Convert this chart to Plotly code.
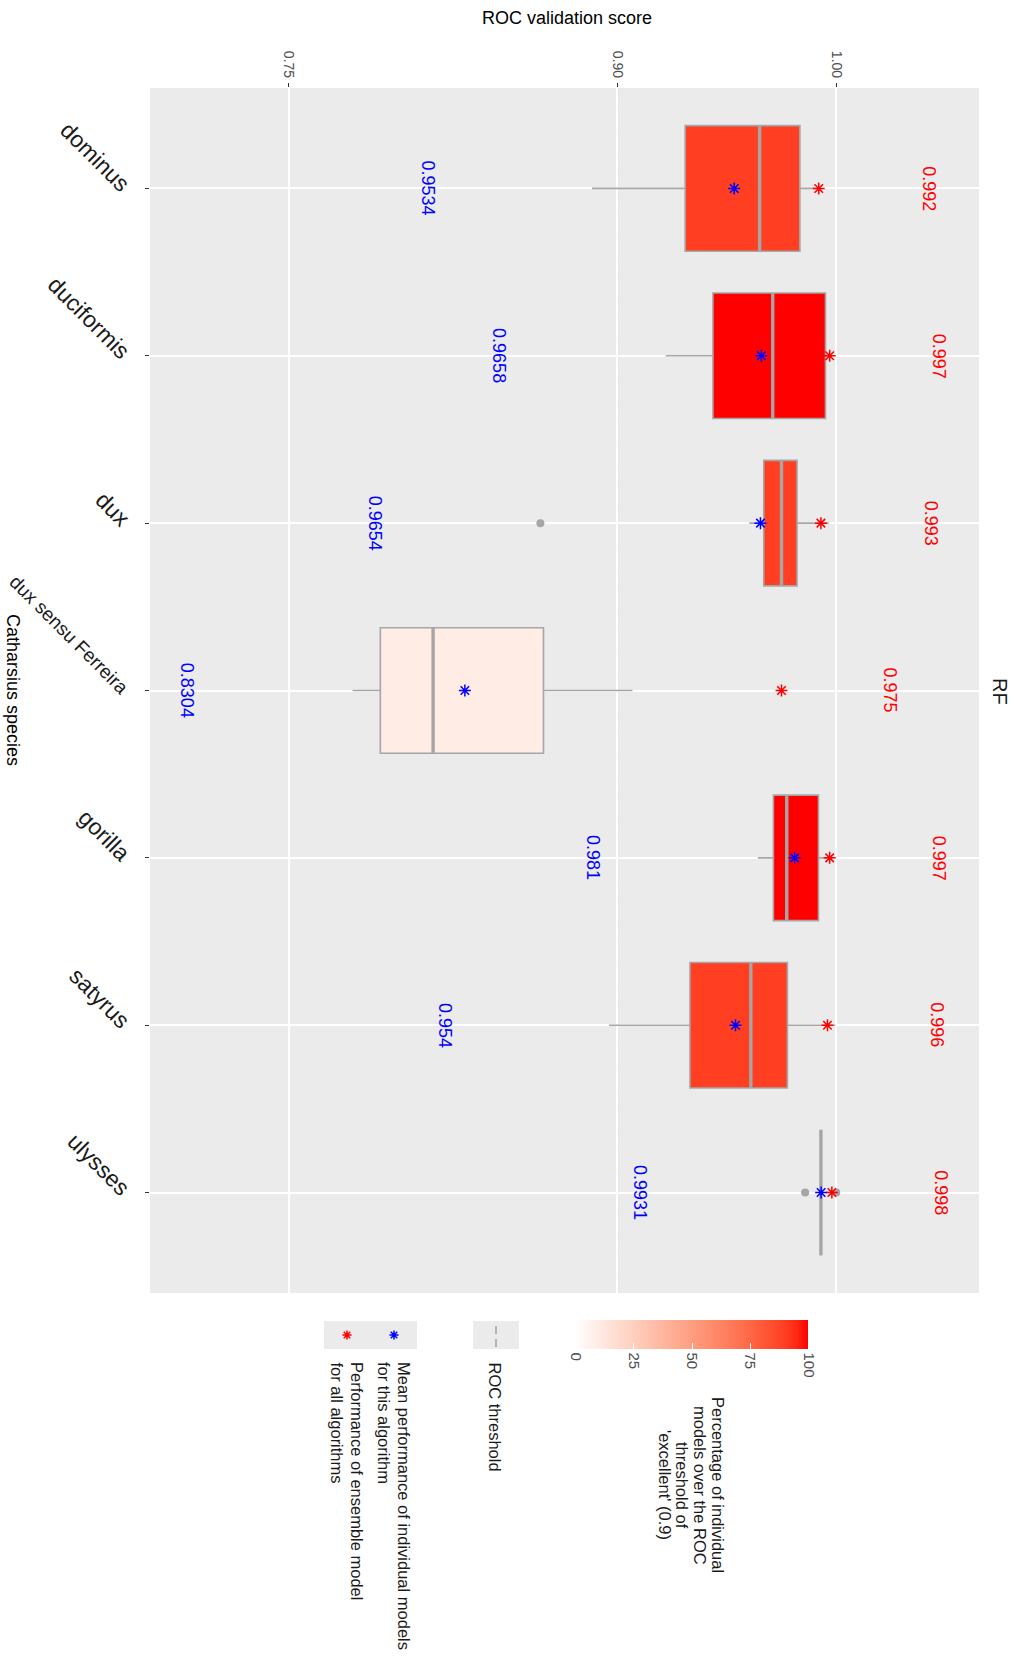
import math
import plotly.graph_objects as go

# ---------------- data ----------------
species = ["dominus", "duciformis", "dux", "dux sensu Ferreira", "gorilla", "satyrus", "ulysses"]
lower_whisker = [0.8885, 0.9221, 0.9603, 0.7791, 0.9642, 0.8962, 0.9930]
q1 = [0.9310, 0.9437, 0.9669, 0.7918, 0.9713, 0.9332, 0.9930]
median = [0.9650, 0.9710, 0.9750, 0.8159, 0.9774, 0.9610, 0.9930]
q3 = [0.9834, 0.9951, 0.9821, 0.8663, 0.9919, 0.9777, 0.9930]
upper_whisker = [0.9925, 0.9975, 0.9966, 0.9069, 0.9985, 0.9995, 0.9930]
outlier_species = ["dux", "ulysses", "ulysses"]
outlier_values = [0.8649, 0.9858, 1.0000]
mean_auc = [0.9534, 0.9658, 0.9654, 0.8304, 0.981, 0.954, 0.9931]
mean_auc_text = ["0.9534", "0.9658", "0.9654", "0.8304", "0.981", "0.954", "0.9931"]
mean_label_x = [0.8135, 0.8463, 0.7895, 0.7038, 0.8889, 0.8210, 0.9107]
ensemble_auc = [0.992, 0.997, 0.993, 0.975, 0.997, 0.996, 0.998]
pct_excellent = [90, 100, 90, 10, 100, 90, 100]
roc_threshold = 0.9
x_ticks = [0.75, 0.90, 1.00]
x_tick_text = ["0.75", "0.90", "1.00"]
pct_ticks = [0, 25, 50, 75, 100]

FONT = "Liberation Sans, Arial, Helvetica, sans-serif"
BOX_GREY = "#A6A6A6"
W, H = 1016, 1663
PL, PR, PT, PB = 150, 979, 88, 1293


# ---------- white -> red gradient interpolated in CIE Lab ----------
def _lin(c):
    c /= 255.0
    return c / 12.92 if c <= 0.04045 else ((c + 0.055) / 1.055) ** 2.4


def _gam(c):
    c = 12.92 * c if c <= 0.0031308 else 1.055 * c ** (1 / 2.4) - 0.055
    return max(0, min(255, round(c * 255)))


_WP = (0.95047, 1.0, 1.08883)


def rgb_to_lab(rgb):
    r, g, b = (_lin(v) for v in rgb)
    X = 0.4124 * r + 0.3576 * g + 0.1805 * b
    Y = 0.2126 * r + 0.7152 * g + 0.0722 * b
    Z = 0.0193 * r + 0.1192 * g + 0.9505 * b

    def f(t):
        return t ** (1 / 3) if t > 0.008856 else 7.787 * t + 16 / 116

    fx, fy, fz = f(X / _WP[0]), f(Y / _WP[1]), f(Z / _WP[2])
    return 116 * fy - 16, 500 * (fx - fy), 200 * (fy - fz)


def lab_to_rgb(lab):
    L, a, b = lab
    fy = (L + 16) / 116
    fx = fy + a / 500
    fz = fy - b / 200

    def finv(t):
        return t ** 3 if t ** 3 > 0.008856 else (t - 16 / 116) / 7.787

    X, Y, Z = finv(fx) * _WP[0], finv(fy) * _WP[1], finv(fz) * _WP[2]
    r = 3.2406 * X - 1.5372 * Y - 0.4986 * Z
    g = -0.9689 * X + 1.8758 * Y + 0.0415 * Z
    bb = 0.0557 * X - 0.2040 * Y + 1.0570 * Z
    return "rgb(%d,%d,%d)" % (_gam(r), _gam(g), _gam(bb))


LAB_LOW = rgb_to_lab((255, 255, 255))
LAB_HIGH = rgb_to_lab((255, 0, 0))


def pct_colour(p):
    t = p / 100.0
    return lab_to_rgb(tuple(lo + (hi - lo) * t for lo, hi in zip(LAB_LOW, LAB_HIGH)))


colorscale = [[k / 20, pct_colour(k * 5)] for k in range(21)]


def px(x):
    return (x - PL) / (PR - PL)


def py(y):
    return (PB - y) / (PB - PT)


def asterisk_path(cx, cy, r=4.6):
    """Eight-armed asterisk in paper coordinates, centred on pixel (cx, cy)."""
    parts = []
    for k in range(4):
        a = k * math.pi / 4
        dx, dy = r * math.cos(a), r * math.sin(a)
        parts.append("M %.5f %.5f L %.5f %.5f" % (px(cx - dx), py(cy - dy), px(cx + dx), py(cy + dy)))
    return " ".join(parts)


# long species names are set slightly smaller so they fit the left margin
def tick_label(name):
    if len(name) > 12:
        return '<span style="font-size:19px">%s</span>' % name
    return name


fig = go.Figure()

ypos = list(range(len(species)))

# boxes
for i, sp in enumerate(species):
    fig.add_trace(go.Box(
        orientation="h", y=[i], q1=[q1[i]], median=[median[i]], q3=[q3[i]],
        lowerfence=[lower_whisker[i]], upperfence=[upper_whisker[i]],
        width=0.75, whiskerwidth=0, boxpoints=False,
        fillcolor=pct_colour(pct_excellent[i]),
        line=dict(color=BOX_GREY, width=1.6),
        showlegend=False, name=sp, hoverinfo="skip"))

# thicker median bars
mx, my = [], []
for i in ypos:
    mx += [median[i], median[i], None]
    my += [i - 0.375, i + 0.375, None]
fig.add_trace(go.Scatter(x=mx, y=my, mode="lines", line=dict(color=BOX_GREY, width=3.4),
                         showlegend=False, hoverinfo="skip"))

# outliers
fig.add_trace(go.Scatter(
    x=outlier_values, y=[species.index(s) for s in outlier_species], mode="markers",
    marker=dict(color=BOX_GREY, size=8), showlegend=False, hoverinfo="skip"))

# ensemble (red) and mean (blue) markers
fig.add_trace(go.Scatter(
    x=ensemble_auc, y=ypos, mode="markers",
    marker=dict(symbol="asterisk-open", size=10, color="red", line=dict(color="red", width=1.5)),
    showlegend=False, hoverinfo="skip"))
fig.add_trace(go.Scatter(
    x=mean_auc, y=ypos, mode="markers",
    marker=dict(symbol="asterisk-open", size=10, color="blue", line=dict(color="blue", width=1.5)),
    showlegend=False, hoverinfo="skip"))

# value labels
for i in ypos:
    fig.add_annotation(x=mean_label_x[i], y=i, xref="x", yref="y", text=mean_auc_text[i],
                       textangle=90, showarrow=False, font=dict(family=FONT, size=18, color="blue"))
    fig.add_annotation(x=ensemble_auc[i] + 0.05, y=i, xref="x", yref="y",
                       text="%.3f" % ensemble_auc[i], textangle=90, showarrow=False,
                       font=dict(family=FONT, size=18, color="red"))

# ROC threshold line
fig.add_shape(type="line", x0=roc_threshold, x1=roc_threshold, xref="x", y0=0, y1=1, yref="paper",
              line=dict(color=BOX_GREY, width=1.6, dash="8px,5px"), layer="between")

# ---------- legend ----------
# colour bar carried by an invisible helper trace
fig.add_trace(go.Scatter(
    x=[PL + 5], y=[PB - 5], xaxis="x2", yaxis="y2", mode="markers",
    marker=dict(color=[50], cmin=0, cmax=100, colorscale=colorscale, opacity=0, size=1,
                showscale=True,
                colorbar=dict(orientation="h", x=px(692), xanchor="center", y=py(1320), yanchor="top",
                              len=233, lenmode="pixels", thickness=29, thicknessmode="pixels",
                              xpad=0, ypad=0, outlinewidth=0, tickvals=pct_ticks, tickangle=90,
                              ticks="inside", tickcolor="white", ticklen=6, tickwidth=1,
                              tickfont=dict(family=FONT, size=15, color="#4d4d4d"))),
    showlegend=False, hoverinfo="skip"))

# legend key backgrounds
fig.add_shape(type="rect", xref="paper", yref="paper", x0=px(473), x1=px(519), y0=py(1349), y1=py(1321),
              fillcolor="#EBEBEB", line=dict(width=0))
fig.add_shape(type="rect", xref="paper", yref="paper", x0=px(324), x1=px(417), y0=py(1349), y1=py(1321),
              fillcolor="#EBEBEB", line=dict(width=0))
fig.add_shape(type="line", xref="paper", yref="paper", x0=px(496), x1=px(496), y0=py(1347), y1=py(1323),
              line=dict(color=BOX_GREY, width=1.6, dash="8px,5px"))
fig.add_shape(type="path", xref="paper", yref="paper", path=asterisk_path(394, 1335),
              line=dict(color="blue", width=1.5))
fig.add_shape(type="path", xref="paper", yref="paper", path=asterisk_path(347, 1335),
              line=dict(color="red", width=1.5))

legend_lines = [
    ("ROC threshold", 495),
    ("Mean performance of individual models", 404),
    ("for this algorithm", 384),
    ("Performance of ensemble model", 357),
    ("for all algorithms", 337),
]
for txt, xx in legend_lines:
    fig.add_annotation(x=px(xx), y=py(1360), xref="paper", yref="paper", text=txt, textangle=90,
                       xanchor="center", yanchor="top", showarrow=False,
                       font=dict(family=FONT, size=16.5, color="#1a1a1a"))

cbar_title = [
    ("Percentage of individual", 718),
    ("models over the ROC", 700),
    ("threshold of", 682),
    ("'excellent' (0.9)", 665),
]
for txt, xx in cbar_title:
    fig.add_annotation(x=px(xx), y=py(1485), xref="paper", yref="paper", text=txt, textangle=90,
                       xanchor="center", yanchor="middle", showarrow=False,
                       font=dict(family=FONT, size=16.5, color="#1a1a1a"))

# titles
fig.add_annotation(x=px(567), y=py(18), xref="paper", yref="paper", text="ROC validation score",
                   showarrow=False, xanchor="center", yanchor="middle",
                   font=dict(family=FONT, size=18, color="#000000"))
fig.add_annotation(x=px(13), y=py(690), xref="paper", yref="paper", text="Catharsius species",
                   textangle=90, showarrow=False, xanchor="center", yanchor="middle",
                   font=dict(family=FONT, size=18, color="#000000"))
fig.add_annotation(x=px(1000), y=py(691), xref="paper", yref="paper", text="RF",
                   textangle=90, showarrow=False, xanchor="center", yanchor="middle",
                   font=dict(family=FONT, size=20, color="#1a1a1a"))

fig.update_layout(
    width=W, height=H, autosize=False,
    margin=dict(l=PL, r=W - PR, t=PT, b=H - PB, pad=0, autoexpand=False),
    paper_bgcolor="white", plot_bgcolor="#EBEBEB",
    font=dict(family=FONT),
    showlegend=False,
    xaxis=dict(range=[0.6866, 1.0652], side="top", tickvals=x_ticks, ticktext=x_tick_text,
               tickangle=90, ticks="outside", ticklen=4, tickcolor="#333333", tickwidth=1,
               tickfont=dict(family=FONT, size=14, color="#4d4d4d"), automargin=False,
               showgrid=True, gridcolor="white", gridwidth=1.5, zeroline=False, showline=False),
    yaxis=dict(range=[6.6, -0.6], tickvals=ypos, ticktext=[tick_label(s) for s in species],
               tickangle=45, ticks="outside", ticklen=4, tickcolor="#333333", tickwidth=1,
               ticklabelstandoff=12,
               tickfont=dict(family=FONT, size=23, color="#1a1a1a"), automargin=False,
               showgrid=True, gridcolor="white", gridwidth=1.5, zeroline=False, showline=False),
    xaxis2=dict(overlaying="x", range=[PL, PR], visible=False, fixedrange=True),
    yaxis2=dict(overlaying="y", range=[PB, PT], visible=False, fixedrange=True),
)

fig.write_html("out.html")
